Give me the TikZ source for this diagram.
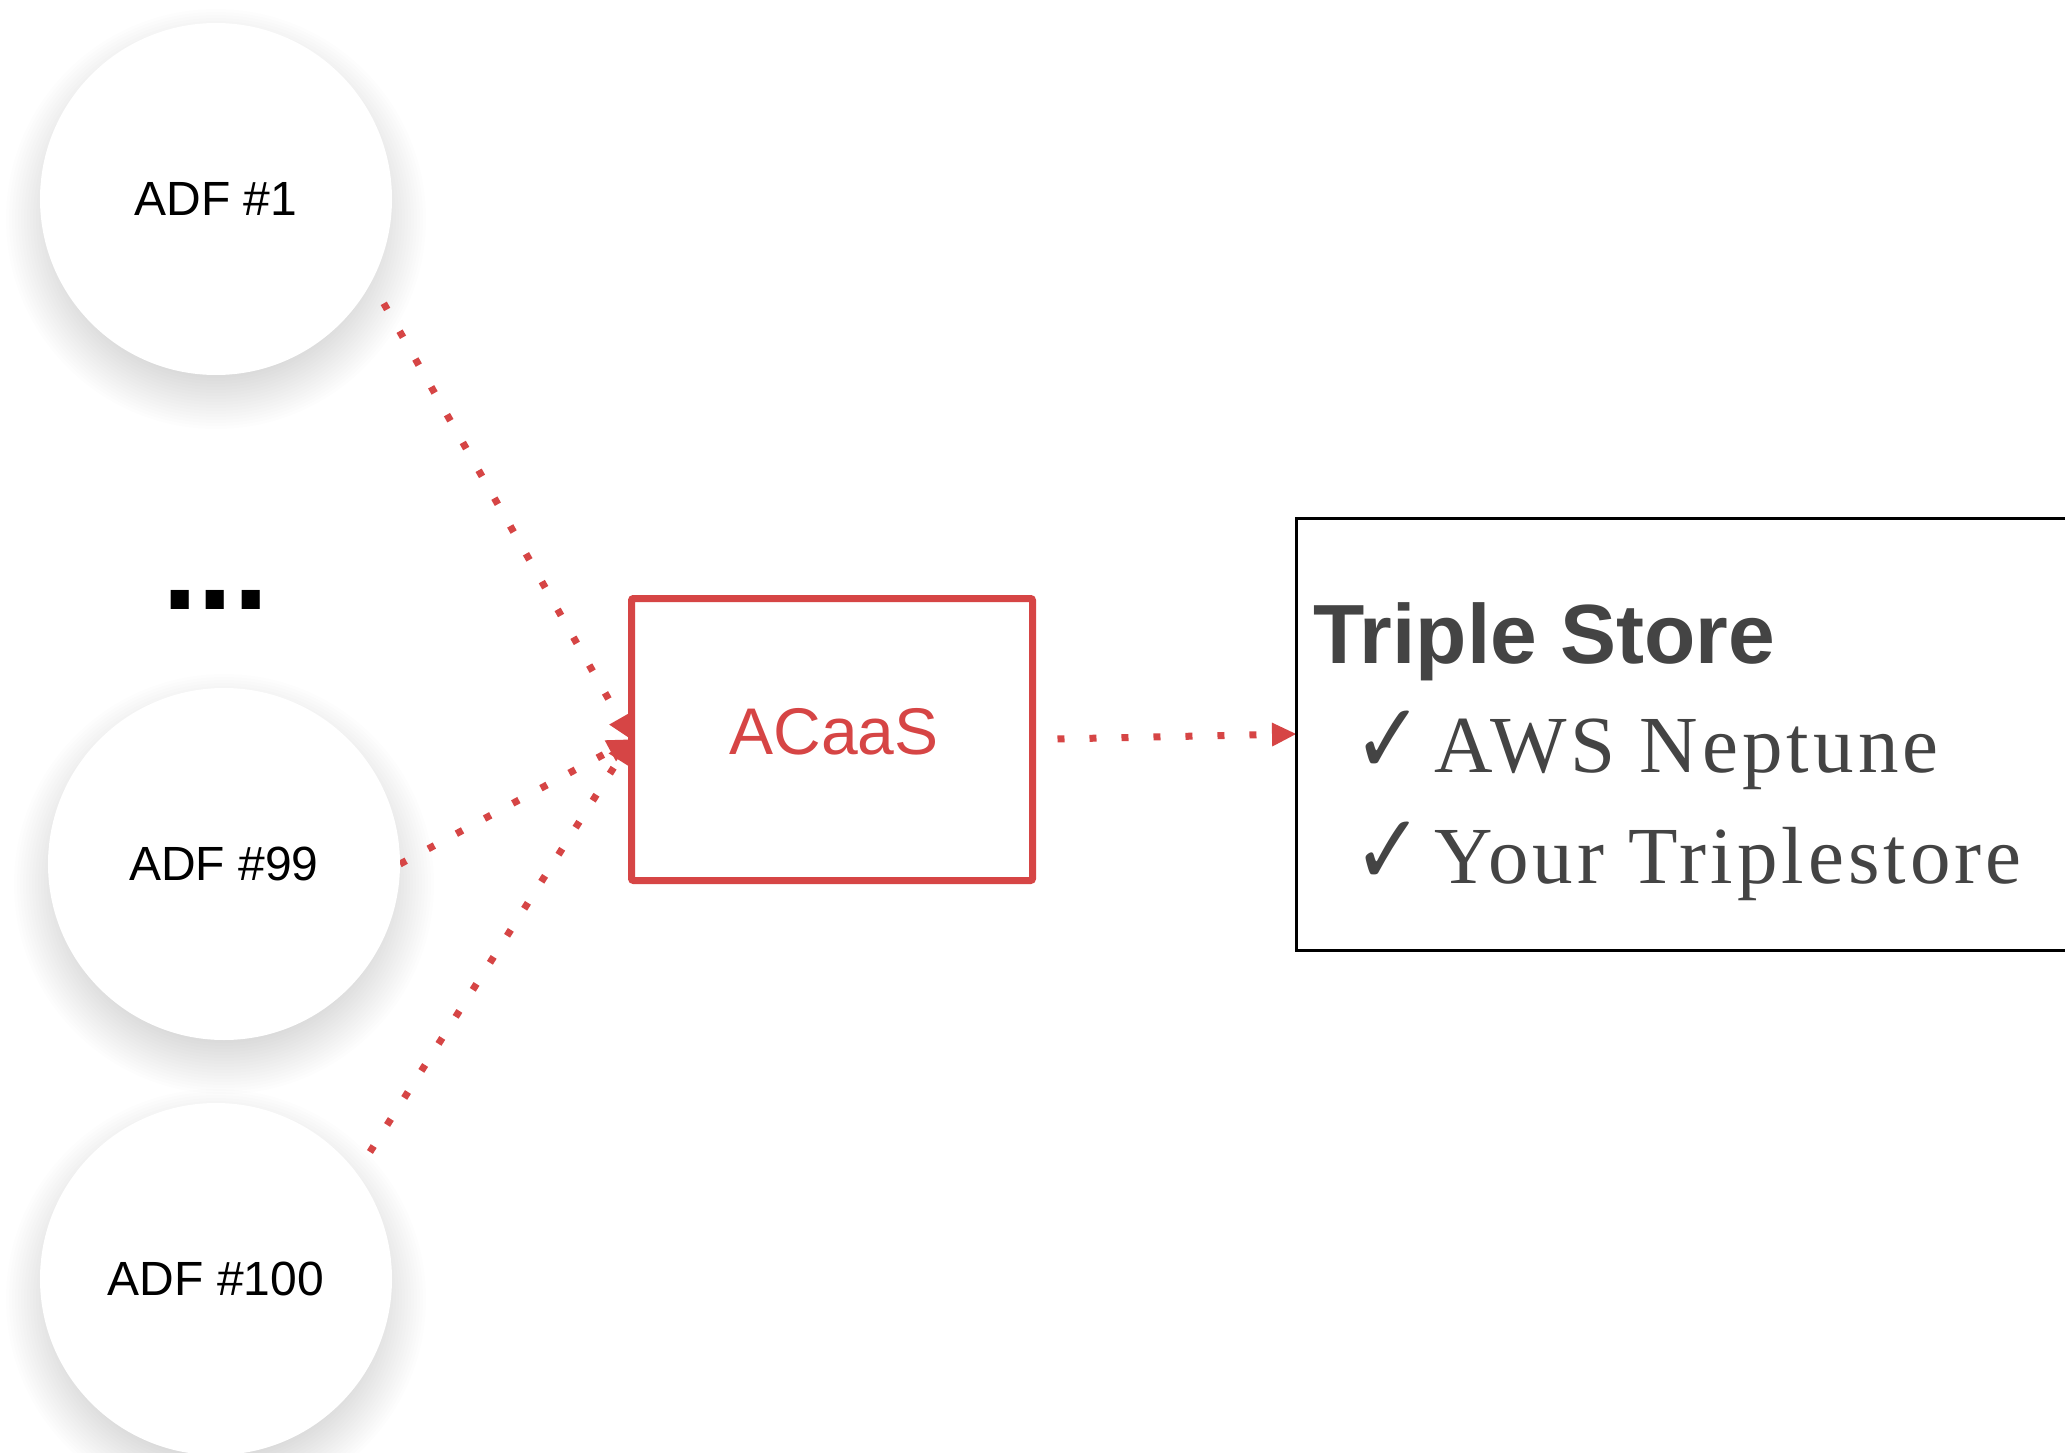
\documentclass[tikz,border=0pt]{standalone}
\usepackage{fontspec}
\setmainfont{Liberation Sans}
\newfontfamily\listface{Liberation Serif}[LetterSpace=5]
\newfontfamily\tickface{DejaVu Sans}
\usetikzlibrary{arrows.meta,backgrounds}

\definecolor{acred}{RGB}{214,69,69}
\definecolor{ink}{RGB}{68,68,68}

\newcommand{\tick}{\scalebox{1.35}[1.6]{✓}}
% soft drop shadow: stacked faint discs under a circle node
\newcommand{\softshadow}[1]{%
  \foreach \r in {141,144,...,211}
    \fill[black, fill opacity=0.0082] ([yshift=-20pt]#1.center) circle (\r pt);}

\begin{document}
\begin{tikzpicture}[x=1pt,y=-1pt,
  adf/.style={circle, fill=white, minimum size=352pt, inner sep=0pt, outer sep=0pt,
    font=\fontsize{48}{48}\selectfont},
  servicebox/.style={draw=acred, line width=7pt, fill=white, rounded corners=2pt,
    minimum width=401pt, minimum height=282pt, inner sep=0pt, outer sep=0pt},
  storebox/.style={draw=black, line width=3pt, minimum width=800pt,
    minimum height=432pt, inner sep=0pt, outer sep=0pt, anchor=west},
  flow/.style={draw=acred, line width=7pt, dash pattern=on 7pt off 25pt,
    -{Triangle[length=24pt, width=24pt, line width=0pt]}},
  lead/.style={dash phase=7pt},
  txt/.style={anchor=base west, inner sep=0pt, outer sep=0pt},
]
\useasboundingbox (0,0) rectangle (2065,1453);

% sources
\node[adf] (adf1)   at (216,199)  {ADF \#1};
\node[adf] (adf99)  at (224,864)  {ADF \#99};
\node[adf] (adf100) at (216,1279) {ADF \#100};
\node[txt, font=\bfseries\fontsize{128}{128}\selectfont] (more) at (162,609) {...};

% service
\node[servicebox] (acaas) at (832,739.5) {};
\node[font=\fontsize{66}{66}\selectfont, text=acred, inner sep=0pt] (acaaslabel) at (834,732) {ACaaS};

% store
\node[storebox] (store) at (1296,734) {};
\node[txt, font=\bfseries\fontsize{84}{84}\selectfont, text=ink] (title) at (1313,663) {Triple Store};
\node[txt, font=\tickface\fontsize{62}{62}\selectfont, text=ink] (tick1) at (1353,773) {\tick};
\node[txt, font=\listface\fontsize{81}{81}\selectfont, text=ink] (item1) at (1434,772) {AWS Neptune};
\node[txt, font=\tickface\fontsize{62}{62}\selectfont, text=ink] (tick2) at (1353,884) {\tick};
\node[txt, font=\listface\fontsize{81}{81}\selectfont, text=ink] (item2) at (1434,883) {Your Triplestore};

% page ground, shadows and connectors, kept under the nodes
\begin{scope}[on background layer]
  \fill[white] (0,0) rectangle (2065,1453);
  \softshadow{adf1}
  \softshadow{adf99}
  \softshadow{adf100}
  \draw[flow, lead] (adf1.-28) -- (acaas.west);
  \draw[flow] (adf99.east) -- (acaas.west);
  \draw[flow, lead] (adf100.37) -- (acaas.west);
  \draw[flow, lead] (acaas.east) -- (store.west);
\end{scope}
\end{tikzpicture}
\end{document}
